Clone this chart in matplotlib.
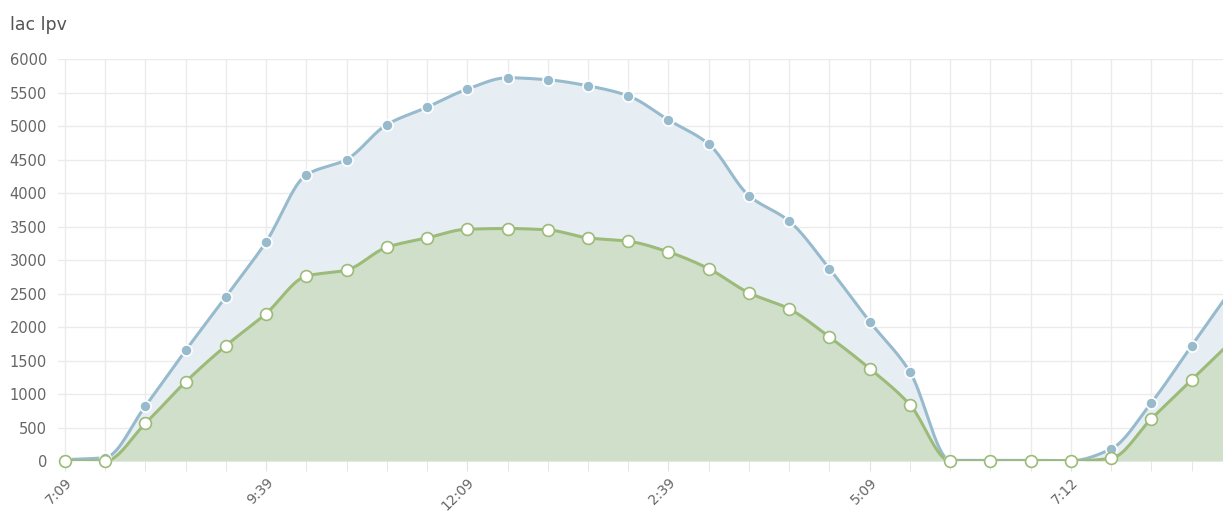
import numpy as np
import matplotlib
import matplotlib.pyplot as plt

matplotlib.use("Agg")

# readings, one every half hour (index 29 lies just past the right edge)
lac = [20, 50, 820, 1650, 2450, 3270, 4270, 4500, 5020, 5280,
       5550, 5720, 5690, 5600, 5450, 5090, 4730, 3960, 3580, 2870,
       2080, 1330, 10, 10, 10, 5, 180, 870, 1720, 2570]
lpv = [0, 0, 560, 1180, 1720, 2200, 2760, 2850, 3190, 3330,
       3460, 3470, 3450, 3330, 3280, 3120, 2870, 2510, 2270, 1850,
       1380, 840, 0, 0, 0, 0, 40, 630, 1210, 1790]
tick_labels = ["7:09", "9:39", "12:09", "2:39", "5:09", "7:12"]
tick_every = 5


def monotone(x, y, n=20):
    # Fritsch-Carlson monotone cubic, only for drawing a smooth line
    x = np.asarray(x, float)
    y = np.asarray(y, float)
    h = np.diff(x)
    d = np.diff(y) / h
    m = np.zeros_like(y)
    m[0], m[-1] = d[0], d[-1]
    for i in range(1, len(y) - 1):
        if d[i - 1] * d[i] <= 0:
            m[i] = 0
        else:
            m[i] = 2 / (1 / d[i - 1] + 1 / d[i])
    xs, ys = [], []
    for i in range(len(x) - 1):
        t = np.linspace(0, 1, n, endpoint=False)
        h00 = 2 * t**3 - 3 * t**2 + 1
        h10 = t**3 - 2 * t**2 + t
        h01 = -2 * t**3 + 3 * t**2
        h11 = t**3 - t**2
        xs.append(x[i] + t * h[i])
        ys.append(h00 * y[i] + h10 * h[i] * m[i] + h01 * y[i + 1] + h11 * h[i] * m[i + 1])
    xs.append([x[-1]])
    ys.append([y[-1]])
    return np.concatenate(xs), np.concatenate(ys)


idx = np.arange(len(lac))
fig = plt.figure(figsize=(12.23, 5.11), dpi=100)
ax = fig.add_axes([58 / 1223, 50 / 511, 1 - 58 / 1223, 402 / 511])

blue = "#97bbcd"
green = "#9cbb78"

xs, ys = monotone(idx, lac)
ax.fill_between(xs, 0, ys, color="#e6eef3", zorder=1, lw=0)
xg, yg = monotone(idx, lpv)
ax.fill_between(xg, 0, yg, color="#cfdfca", zorder=2, lw=0)
ax.plot(xs, ys, color=blue, lw=2.2, zorder=3)
ax.plot(xg, yg, color=green, lw=2.2, zorder=4)
ax.plot(idx, lac, "o", ms=8, mfc=blue, mec="white", mew=1.2, zorder=5, clip_on=False)
ax.plot(idx, lpv, "o", ms=8.5, mfc="white", mec=green, mew=1.2, zorder=6, clip_on=False)

ax.set_yticks(np.arange(0, 6001, 500))
ax.set_xticks(idx[:-1], minor=True)
ax.set_xticks(idx[::tick_every][:len(tick_labels)])
ax.set_xticklabels(tick_labels, rotation=45, ha="right", rotation_mode="anchor")
ax.set_xlim(-0.17, 28.78)
ax.set_ylim(0, 6000)
ax.grid(True, which="both", color="#ebebeb", lw=1, zorder=0)
ax.set_axisbelow(True)
for s in ax.spines.values():
    s.set_visible(False)
ax.tick_params(axis="x", which="both", length=7, color="#e2e2e2", pad=3,
               labelsize=10, labelcolor="#666666")
ax.tick_params(axis="y", length=0, pad=8, labelsize=10.5, labelcolor="#666666")

fig.text(10 / 1223, 1 - 25 / 511, "lac lpv", fontsize=12.5, color="#555555", va="center")

fig.savefig("out.png", dpi=100)
